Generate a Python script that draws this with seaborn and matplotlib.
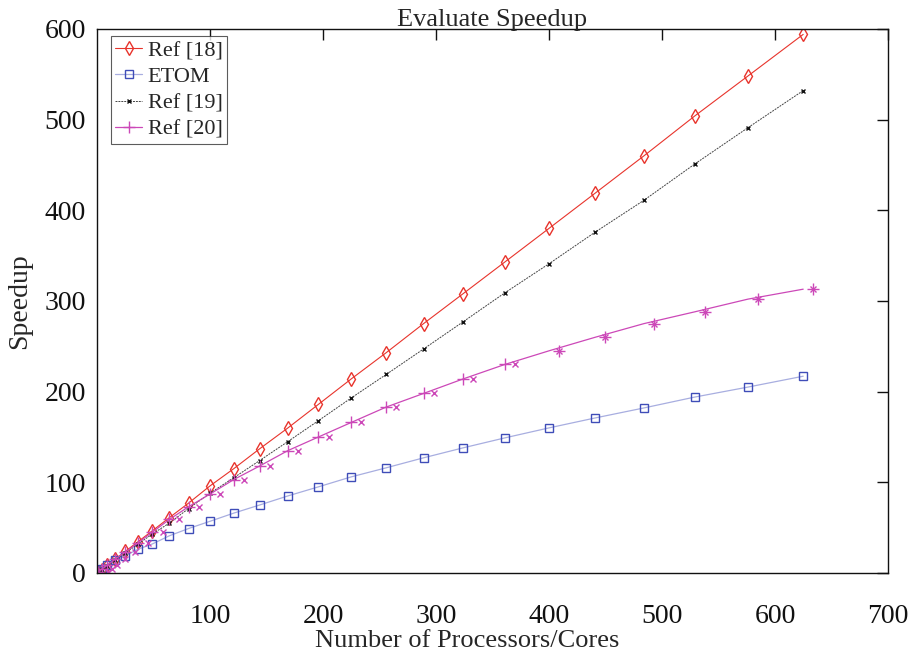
import matplotlib
matplotlib.use("Agg")
import matplotlib.pyplot as plt
from matplotlib.lines import Line2D
import numpy as np
import seaborn as sns

# number of processors/cores (perfect squares)
procs = [1, 4, 9, 16, 25, 36, 49, 64, 81, 100, 121, 144, 169, 196, 225,
         256, 289, 324, 361, 400, 441, 484, 529, 576, 625]

ref18 = [1, 3.8, 8.6, 15.2, 23.8, 34.2, 46.5, 61, 77, 96, 115, 137, 160,
         186, 214, 243, 275, 308, 343, 380, 419, 460, 504, 548, 594]
etom = [2, 4, 9, 14, 19, 26, 32, 41, 49, 57, 66, 75, 85, 95, 106, 116,
        127, 138, 149, 160, 171, 182, 194, 205, 217]
ref19 = [1, 3.5, 8, 14, 22, 31.5, 43, 55, 71, 88, 105, 124, 145, 168, 193,
         219, 247, 277, 309, 341, 376, 411, 451, 491, 532]
ref20 = [1, 4, 8.5, 15, 23, 33, 45, 59, 73, 87, 103, 118, 135, 150, 166,
         183, 198, 214, 230, 245, 260, 275, 288, 302, 313]

pink = '#cc48b8'

sns.set_style("white")
plt.rcParams['font.family'] = ['Liberation Serif', 'DejaVu Serif']

fig = plt.figure(figsize=(9.21, 6.52), dpi=100)
ax = fig.add_axes([0.1053, 0.1212, 0.8588, 0.8344])

sns.lineplot(x=procs, y=ref18, ax=ax, color='#e8342c', lw=0.8,
             marker='d', markersize=7, markerfacecolor='none',
             markeredgecolor='#e8342c', markeredgewidth=1.0, label='Ref [18]')
sns.lineplot(x=procs, y=etom, ax=ax, color='#a8aee0', lw=0.9,
             marker='s', markersize=6, markerfacecolor='none',
             markeredgecolor='#3f4db8', markeredgewidth=1.0, label='ETOM')
sns.lineplot(x=procs, y=ref19, ax=ax, color='#444444', lw=0.7,
             linestyle=(0, (2, 1)), marker='x', markersize=3,
             markeredgecolor='#111111', markeredgewidth=1.0, label='Ref [19]')

# Ref [20]: '+' on the line for small counts, shifted '+'/'x' marks beside it
n_on = 19
shift = 9
sns.lineplot(x=procs, y=ref20, ax=ax, color=pink, lw=0.9, label='Ref [20]')
ax.plot(procs[:n_on], ref20[:n_on], linestyle='none', marker='+',
        markersize=8, markeredgewidth=1.0, color=pink)
shifted_x = np.array(procs) + shift
ax.plot(shifted_x, ref20, linestyle='none', marker='x', markersize=4,
        markeredgewidth=1.0, color=pink)
ax.plot(shifted_x[n_on:], ref20[n_on:], linestyle='none', marker='+',
        markersize=8, markeredgewidth=1.0, color=pink)

ax.set_xlim(0, 700)
ax.set_ylim(0, 600)
ax.set_xticks([100, 200, 300, 400, 500, 600, 700])
ax.set_yticks([0, 100, 200, 300, 400, 500, 600])
ax.tick_params(direction='in', length=8, width=1, top=True, right=True,
               labelsize=20, colors='#111111')
ax.tick_params(axis='x', pad=22)
ax.tick_params(axis='y', pad=8)
for s in ax.spines.values():
    s.set_color('#111111')
    s.set_linewidth(1.0)

ax.set_title('Evaluate Speedup', fontsize=19, pad=2)
ax.set_xlabel('Number of Processors/Cores', fontsize=19)
ax.set_ylabel('Speedup', fontsize=20, labelpad=9)
ax.xaxis.set_label_coords(0.468, -0.104)

handles, labels = ax.get_legend_handles_labels()
handles[3] = Line2D([], [], color=pink, lw=0.9, marker='+', markersize=8,
                    markeredgewidth=1.0)
leg = ax.legend(handles, labels, loc='upper left',
                bbox_to_anchor=(0.012, 0.995), fontsize=16,
                frameon=True, fancybox=False, edgecolor='#333333',
                handlelength=1.2, handletextpad=0.25, borderpad=0.2,
                labelspacing=0.25, borderaxespad=0.2)
leg.get_frame().set_linewidth(0.8)

fig.savefig('out.png', dpi=100)
